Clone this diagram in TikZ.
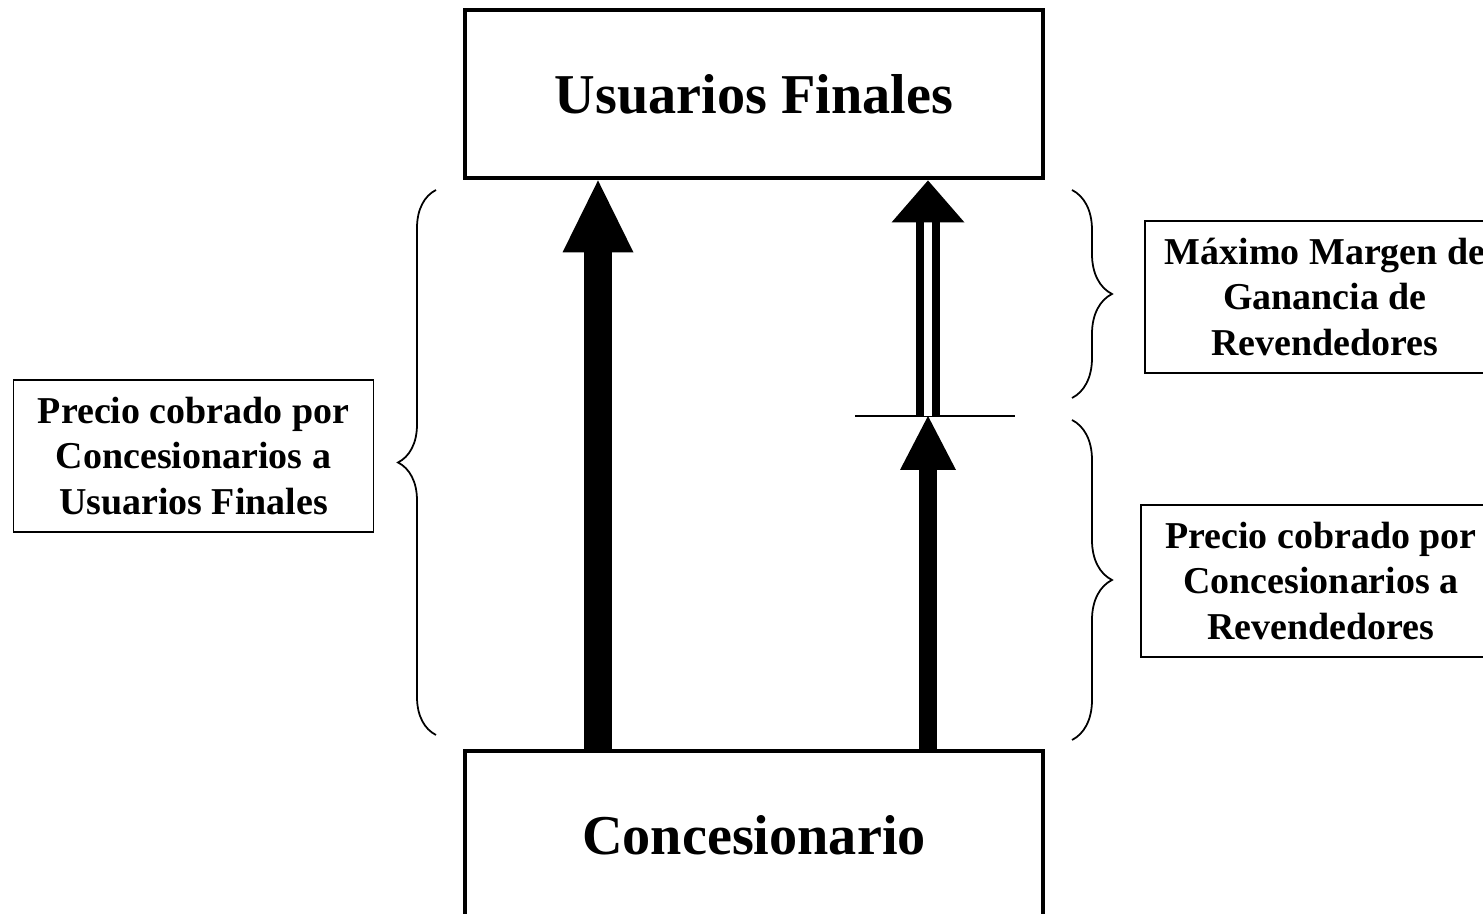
\documentclass[tikz,border=0pt]{standalone}
\usepackage{fontspec}
\setmainfont{Liberation Serif}
\usetikzlibrary{arrows.meta, positioning, decorations.pathreplacing}

\begin{document}
\begin{tikzpicture}[
    bigbox/.style={draw, line width=2.8pt, outer sep=0pt, minimum width=11.56cm, minimum height=3.36cm, font=\fontsize{32}{38}\selectfont\bfseries},
    labelbox/.style={draw, line width=0.85pt, minimum width=7.2cm, minimum height=3.04cm, align=center, font=\fontsize{21.6}{25.8}\selectfont\bfseries},
    brc/.style={decorate, decoration={brace, amplitude=#1}, line width=1pt}
]
    \useasboundingbox (0,0) rectangle (29.66,18.28);
    % main boxes
    \node[bigbox] (users) at (15.08,16.4) {Usuarios Finales};
    \node[bigbox] (conc) at (15.08,1.58) {Concesionario};

    % arrow end points
    \coordinate (lbase) at ([xshift=2.66cm]conc.north west);
    \coordinate (ltip) at ([xshift=2.66cm,yshift=-1.4pt]users.south west);
    \coordinate (rbase) at ([xshift=9.26cm]conc.north west);
    \coordinate (rtip) at ([xshift=9.26cm,yshift=-1.4pt]users.south west);
    \coordinate (mid) at ([yshift=6.7cm]rbase);

    \draw[line width=1.1pt] ([xshift=-1.46cm]mid) -- ([xshift=1.74cm]mid);
    \draw[line width=15.4pt, -{Triangle[length=1.44cm, width=1.42cm, line width=0pt]}] (lbase) -- (ltip);
    \draw[line width=9.7pt, -{Triangle[length=1.08cm, width=1.12cm, line width=0pt]}] (rbase) -- (mid);
    \draw[double, line width=4.4pt, double distance=5pt, -{Triangle[length=0.84cm, width=1.46cm, line width=0pt]}] (mid) -- (rtip);

    % braces
    \draw[brc=0.76cm] (8.72,3.58) -- (8.72,14.48);
    \draw[brc=0.8cm] (21.44,14.48) -- (21.44,10.32);
    \draw[brc=0.8cm] (21.44,9.88) -- (21.44,3.48);

    % labels
    \node[labelbox] (retail) at (3.87,9.16) {Precio cobrado por\\Concesionarios a\\Usuarios Finales};
    \node[labelbox] (margin) at (26.5,12.34) {Máximo Margen de\\Ganancia de\\Revendedores};
    \node[labelbox] (whole) at (26.42,6.66) {Precio cobrado por\\Concesionarios a\\Revendedores};
\end{tikzpicture}
\end{document}
